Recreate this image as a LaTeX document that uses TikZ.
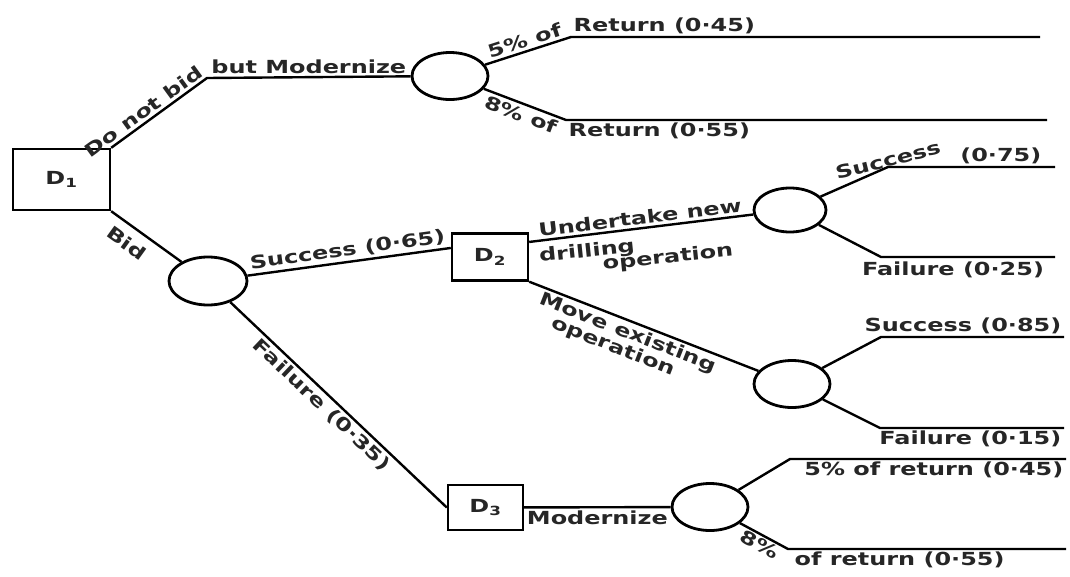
\documentclass[tikz,border=0pt]{standalone}
\usepackage{fontspec}
\setmainfont{DejaVu Sans Bold}[FakeStretch=1.33]
\usetikzlibrary{shapes.geometric}
\begin{document}
\begin{tikzpicture}[x=1pt,y=-1pt,
  every node/.style={font=\fontsize{18}{21}\selectfont, inner sep=2.5pt, text=black!85},
  link/.style={draw, line width=2.4pt, line join=round},
  decbox/.style={draw, line width=2.4pt, rectangle, inner sep=0pt},
  chance/.style={draw, line width=2.8pt, ellipse, inner sep=0pt, minimum width=76pt, minimum height=47pt}]
\useasboundingbox[fill=white] (0,0) rectangle (1070,576);
% nodes
\node[decbox, minimum width=97pt, minimum height=61pt] (d1) at (61.5,179.5) {D\textsubscript{1}};
\node[chance] (c1) at (450,76) {};
\node[chance, minimum width=78pt, minimum height=48pt] (c2) at (208,281) {};
\node[decbox, minimum width=76pt, minimum height=47pt] (d2) at (490,257) {D\textsubscript{2}};
\node[chance, minimum width=72pt, minimum height=44pt] (c3) at (790,210) {};
\node[chance] (c4) at (792,384) {};
\node[decbox, minimum width=75pt, minimum height=45pt] (d3) at (485.5,507.5) {D\textsubscript{3}};
\node[chance] (c5) at (710,507) {};
% bend and end points
\coordinate (k1) at (207,78);
\coordinate (k2) at (571,37);  \coordinate (e2) at (1040,37);
\coordinate (k3) at (566,120); \coordinate (e3) at (1047,120);
\coordinate (k4) at (888,167); \coordinate (e4) at (1055,167);
\coordinate (k5) at (881,257); \coordinate (e5) at (1055,257);
\coordinate (k6) at (881,337); \coordinate (e6) at (1064,337);
\coordinate (k7) at (880,428); \coordinate (e7) at (1064,428);
\coordinate (k8) at (790,459); \coordinate (e8) at (1066,459);
\coordinate (k9) at (788,549); \coordinate (e9) at (1066,549);
% connectors
\draw[link] (d1.north east) -- node[sloped, above, pos=0.4] (l1) {Do not bid} (k1)
  -- node[above] (l2) {but Modernize} (c1);
\draw[link] (c1) -- node[sloped, above] (l3) {5\% of} (k2) -- (e2);
\node[anchor=south west] (l4) at (k2) {Return (0·45)};
\draw[link] (c1) -- node[sloped, below] (l5) {8\% of} (k3) -- (e3);
\node[anchor=north west] (l6) at (k3) {Return (0·55)};
\draw[link] (d1.south east) -- node[sloped, below=6pt, pos=0.36] (l7) {Bid} (c2);
\draw[link] (c2) -- node[sloped, above] (l8) {Success (0·65)} (d2.167);
\draw[link] (d2.21) -- node[sloped, above] (l9) {Undertake new} (c3);
\node[rotate=6] (l10) at (587,252) {drilling};
\node[rotate=6] (l11) at (668,258) {operation};
\draw[link] (c3) -- (k4) -- (e4);
\node[rotate=14] (l12) at (888,160) {Success};
\node[anchor=south east] (l13) at (1044,167) {(0·75)};
\draw[link] (c3) -- (k5) -- (e5);
\node[anchor=north] (l14) at (953,259) {Failure (0·25)};
\draw[link] (d2.south east) -- node[sloped, below, align=left, pos=0.45] (l15) {Move existing\\[-3pt]\hspace*{1.1em}operation} (c4);
\draw[link] (c4) -- (k6) -- (e6);
\node[anchor=south east] (l16) at (e6) {Success (0·85)};
\draw[link] (c4) -- (k7) -- (e7);
\node[anchor=north east] (l17) at (e7) {Failure (0·15)};
\draw[link] (c2) -- node[sloped, below, pos=0.46] (l18) {Failure (0·35)} (d3.west);
\draw[link] (d3) -- node[below] (l19) {Modernize} (c5);
\draw[link] (c5) -- (k8) -- (e8);
\node[anchor=north east] (l20) at (e8) {5\% of return (0·45)};
\draw[link] (c5) -- node[sloped, below, inner sep=1pt] (l21) {8\%} (k9) -- (e9);
\node[anchor=north west] (l22) at ([xshift=4pt]k9) {of return (0·55)};
\end{tikzpicture}
\end{document}
